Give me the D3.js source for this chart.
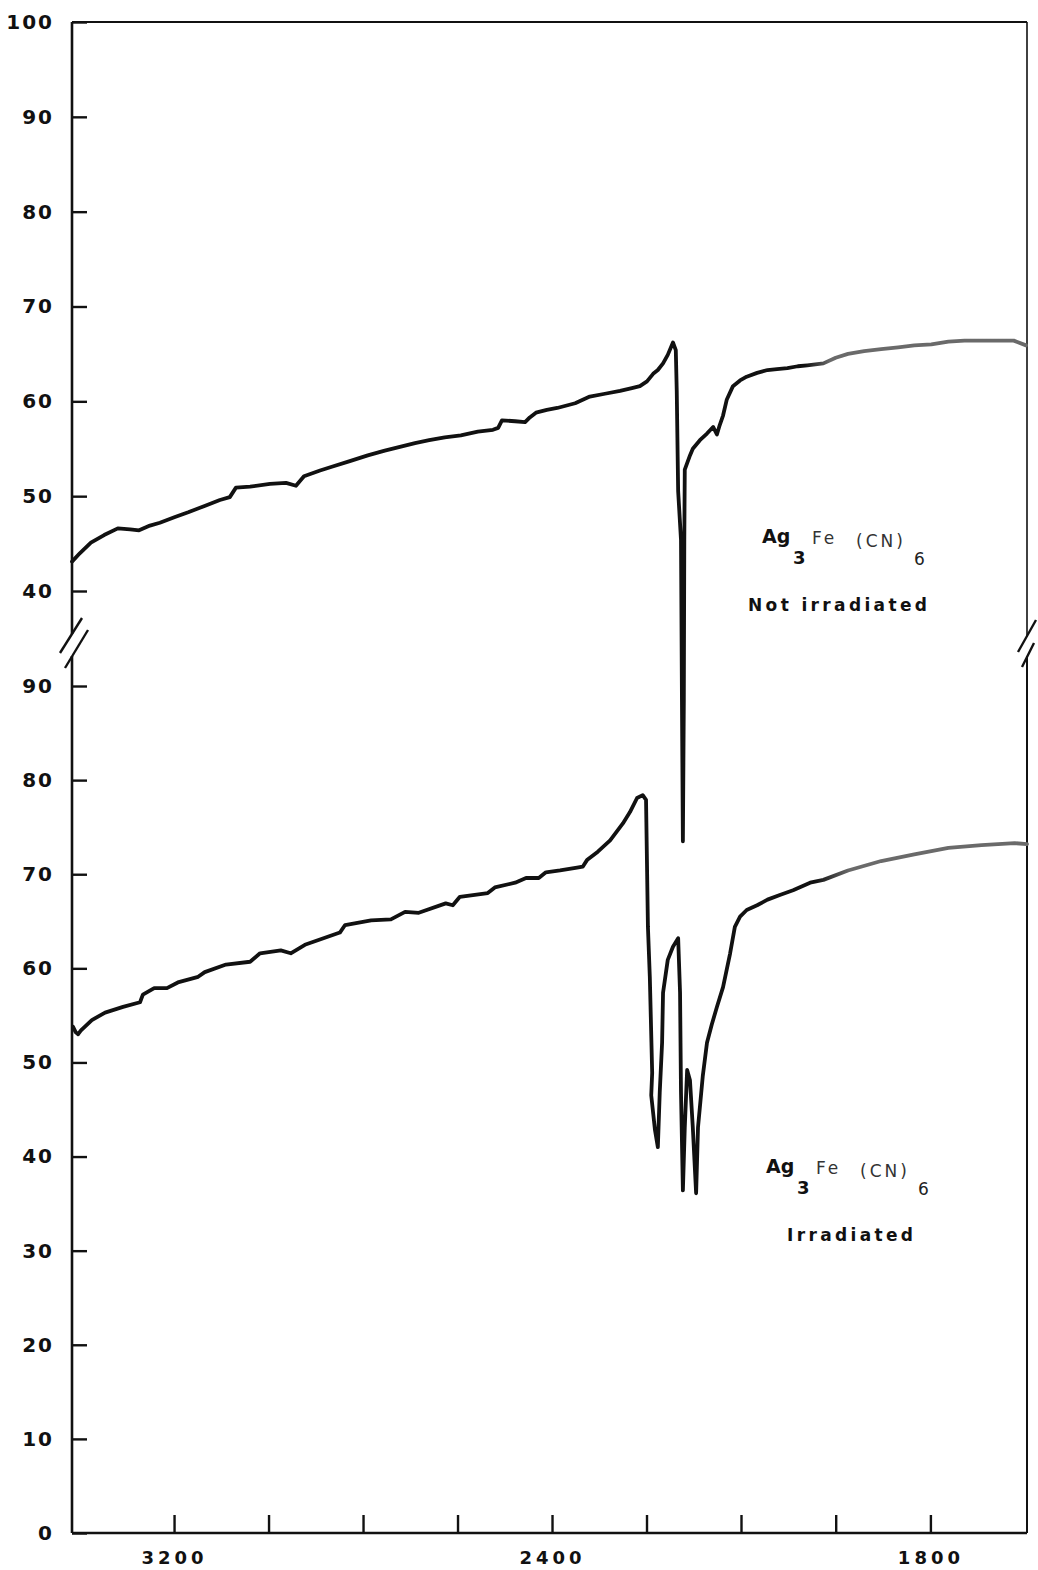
<!DOCTYPE html>
<html>
<head>
<meta charset="utf-8">
<script src="https://cdn.jsdelivr.net/npm/d3@7"></script>
<style>
	body { margin: 0; background: #fff; }
	svg { display: block; }
	.tick text { font-family: "DejaVu Sans", sans-serif; font-weight: bold; fill: #111; }
	.note { font-family: "DejaVu Sans", sans-serif; fill: #111; }
</style>
</head>
<body>
<div class="spectrum"></div>
<script>

// wavenumbers (cm-1) and % transmittance
const notIrrWn = [3416, 3399, 3376, 3348, 3319, 3293, 3274, 3251, 3230, 3198, 3170, 3134, 3103, 3082, 3069, 3039, 2997, 2963, 2942, 2925,
	2891, 2866, 2828, 2790, 2754, 2722, 2690, 2660, 2627, 2593, 2557, 2525, 2514, 2506, 2478, 2457, 2447, 2434, 2411, 2389,
	2351, 2320, 2288, 2256, 2231, 2214, 2199, 2186, 2176, 2165, 2155, 2144, 2138, 2136, 2133, 2127, 2125, 2123, 2121, 2120,
	2119, 2108, 2102, 2087, 2072, 2059, 2051, 2045, 2038, 2030, 2017, 2002, 1994, 1983, 1972, 1962, 1951, 1940, 1930, 1913,
	1900, 1887, 1870, 1852, 1834, 1817, 1799, 1781, 1764, 1747, 1729, 1712, 1699];
const notIrrT = [43.1, 44.0, 45.1, 45.9, 46.6, 46.5, 46.4, 46.9, 47.2, 47.8, 48.3, 49.0, 49.6, 49.9, 50.9, 51.0, 51.3, 51.4, 51.1, 52.1,
	52.7, 53.1, 53.7, 54.3, 54.8, 55.2, 55.6, 55.9, 56.2, 56.4, 56.8, 57.0, 57.2, 58.0, 57.9, 57.8, 58.3, 58.8, 59.1, 59.3,
	59.8, 60.5, 60.8, 61.1, 61.4, 61.6, 62.1, 62.9, 63.3, 64.0, 64.9, 66.2, 65.4, 61.1, 50.5, 45.4, 28.5, 13.6, 28.5, 45.4,
	52.8, 54.3, 55.0, 55.9, 56.6, 57.3, 56.5, 57.5, 58.5, 60.2, 61.6, 62.2, 62.6, 63.0, 63.3, 63.4, 63.5, 63.7, 63.8, 64.0,
	64.6, 65.0, 65.3, 65.5, 65.7, 65.9, 66.0, 66.3, 66.4, 66.4, 66.4, 66.4, 65.9];

const irrWn = [3414, 3408, 3403, 3397, 3374, 3346, 3308, 3272, 3266, 3242, 3215, 3192, 3149, 3135, 3090, 3039, 3018, 2974, 2953, 2923,
	2849, 2838, 2783, 2741, 2711, 2682, 2625, 2610, 2595, 2536, 2521, 2478, 2455, 2428, 2413, 2383, 2347, 2335, 2326, 2303,
	2277, 2250, 2235, 2220, 2208, 2201, 2197, 2193, 2188, 2190, 2182, 2176, 2172, 2167, 2165, 2155, 2144, 2133, 2129, 2127,
	2123, 2119, 2114, 2108, 2102, 2095, 2091, 2081, 2072, 2062, 2051, 2038, 2023, 2013, 2002, 1994, 1983, 1972, 1959, 1945,
	1927, 1913, 1887, 1852, 1817, 1781, 1746, 1711, 1698];
const irrT = [53.8, 53.2, 53.0, 53.4, 54.5, 55.3, 55.9, 56.4, 57.2, 57.9, 57.9, 58.5, 59.1, 59.6, 60.4, 60.7, 61.6, 61.9, 61.6, 62.5,
	63.8, 64.6, 65.1, 65.2, 66.0, 65.9, 66.9, 66.7, 67.6, 68.0, 68.6, 69.1, 69.6, 69.6, 70.2, 70.4, 70.7, 70.8, 71.5, 72.4,
	73.6, 75.4, 76.6, 78.1, 78.4, 77.9, 64.4, 59.1, 48.9, 46.5, 42.8, 41.0, 46.8, 52.1, 57.4, 60.9, 62.3, 63.2, 57.4, 46.8,
	36.4, 43.1, 49.2, 48.1, 43.1, 36.1, 43.1, 48.5, 52.1, 54.0, 55.9, 58.0, 61.6, 64.4, 65.5, 66.2, 66.7, 67.3, 67.8, 68.3,
	69.1, 69.4, 70.4, 71.4, 72.1, 72.8, 73.1, 73.3, 73.2];

const xTicks = [3200, 3000, 2800, 2600, 2400, 2200, 2000, 1900, 1800];
const xLabels = [3200, 2400, 1800];
const yTicksTop = [40, 50, 60, 70, 80, 90, 100];
const yTicksBottom = [0, 10, 20, 30, 40, 50, 60, 70, 80, 90];

const width = 1038;
const height = 1570;

const svg = d3.select(".spectrum")
	.append("svg")
		.attr("width", width)
		.attr("height", height);

// grating change at 2000 cm-1 doubles the scale
const x = d3.scaleLinear()
	.domain([3416, 2000, 1698])
	.range([72, 741, 1027]);

const yTop = d3.scaleLinear().domain([40, 100]).range([591, 22]);
const yBot = d3.scaleLinear().domain([0, 90]).range([1533, 686]);

const left = x(3416), right = x(1698);

// frame
const frame = svg.append("g")
	.attr("stroke", "#111")
	.attr("stroke-width", 2.6)
	.attr("fill", "none");

frame.append("line").attr("x1", left).attr("x2", right).attr("y1", yTop(100)).attr("y2", yTop(100)).attr("stroke-width", 2);
frame.append("line").attr("x1", left).attr("x2", right).attr("y1", yBot(0)).attr("y2", yBot(0));
frame.append("line").attr("x1", left).attr("x2", left).attr("y1", yTop(100)).attr("y2", 634);
frame.append("line").attr("x1", left).attr("x2", left).attr("y1", 656).attr("y2", yBot(0));
frame.append("line").attr("x1", right).attr("x2", right).attr("y1", yTop(100)).attr("y2", 637).attr("stroke-width", 1.6);
frame.append("line").attr("x1", right).attr("x2", right).attr("y1", 656).attr("y2", yBot(0)).attr("stroke-width", 2);

// axis breaks
const breaks = [
	[left - 12, 653, left + 10, 618],
	[left - 7, 668, left + 16, 630],
	[right - 9, 652, right + 9, 620],
	[right - 5, 667, right + 7, 643]
];
frame.selectAll(".brk")
	.data(breaks).enter()
	.append("line")
		.attr("class", "brk")
		.attr("x1", (d) => d[0]).attr("y1", (d) => d[1])
		.attr("x2", (d) => d[2]).attr("y2", (d) => d[3])
		.attr("stroke-width", 2.4);

// axes
function styleAxis(g) {
	g.select(".domain").remove();
	g.selectAll(".tick line").attr("stroke", "#111").attr("stroke-width", 2.4);
}

svg.append("g")
	.attr("transform", `translate(${left},0)`)
	.call(d3.axisLeft(yTop).tickValues(yTicksTop).tickSizeInner(-15).tickSizeOuter(0).tickPadding(18))
	.call(styleAxis)
	.selectAll("text").style("font-size", "20px").attr("letter-spacing", 2);

svg.append("g")
	.attr("transform", `translate(${left},0)`)
	.call(d3.axisLeft(yBot).tickValues(yTicksBottom).tickSizeInner(-15).tickSizeOuter(0).tickPadding(18))
	.call(styleAxis)
	.selectAll("text").style("font-size", "20px").attr("letter-spacing", 2);

svg.append("g")
	.attr("transform", `translate(0,${yBot(0)})`)
	.call(d3.axisBottom(x).tickValues(xTicks).tickSizeInner(-18).tickSizeOuter(0).tickPadding(18)
		.tickFormat((d) => xLabels.includes(d) ? d : ""))
	.call(styleAxis)
	.selectAll("text").style("font-size", "18px").attr("letter-spacing", 4);

// fade of the pen on the right side
const defs = svg.append("defs");
function fade(id, from, to) {
	const g = defs.append("linearGradient")
		.attr("id", id)
		.attr("gradientUnits", "userSpaceOnUse")
		.attr("x1", from).attr("x2", to).attr("y1", 0).attr("y2", 0);
	g.append("stop").attr("offset", 0).attr("stop-color", "#111");
	g.append("stop").attr("offset", 1).attr("stop-color", "#6a6a6a");
}
fade("fadeTop", 805, 830);
fade("fadeBot", 815, 850);

const series = [
	{ wn: notIrrWn, t: notIrrT, y: yTop, stroke: "url(#fadeTop)" },
	{ wn: irrWn, t: irrT, y: yBot, stroke: "url(#fadeBot)" }
];

series.forEach((s) => {
	const line = d3.line()
		.x((d, i) => x(s.wn[i]))
		.y((d, i) => s.y(s.t[i]));
	svg.append("path")
		.datum(s.wn)
		.attr("d", line)
		.attr("fill", "none")
		.attr("stroke", s.stroke)
		.attr("stroke-width", 3.8)
		.attr("stroke-linejoin", "round")
		.attr("stroke-linecap", "round");
});

// sample labels
function label(x0, y0, caption, capX, capW) {
	const g = svg.append("g").attr("class", "note");
	g.append("text").attr("x", x0).attr("y", y0).style("font-size", "19px").style("font-weight", "bold").text("Ag");
	g.append("text").attr("x", x0 + 31).attr("y", y0 + 21).style("font-size", "18px").style("font-weight", "bold").text("3");
	g.append("text").attr("x", x0 + 50).attr("y", y0 + 1).style("font-size", "17px").attr("fill", "#333").attr("letter-spacing", 3).text("Fe");
	g.append("text").attr("x", x0 + 94).attr("y", y0 + 4).style("font-size", "17px").attr("fill", "#333").attr("letter-spacing", 3).text("(CN)");
	g.append("text").attr("x", x0 + 152).attr("y", y0 + 22).style("font-size", "17px").attr("fill", "#222").text("6");
	g.append("text").attr("x", capX).attr("y", y0 + 68)
		.attr("textLength", capW).attr("lengthAdjust", "spacing")
		.style("font-size", "17px").style("font-weight", "bold").text(caption);
}
label(762, 543, "Not irradiated", 748, 179);
label(766, 1173, "Irradiated", 787, 126);

</script>
</body>
</html>
